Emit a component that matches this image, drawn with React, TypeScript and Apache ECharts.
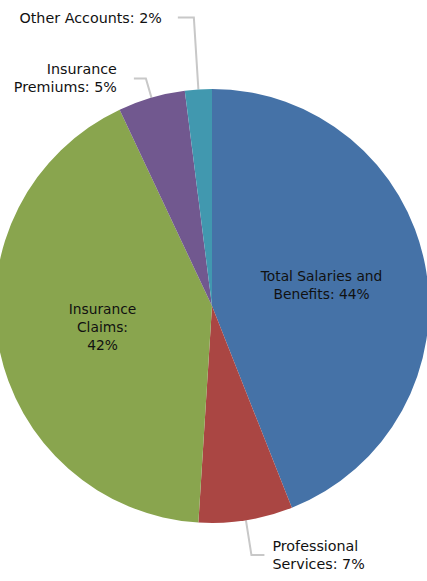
import React, { useEffect, useRef } from "react";
import * as echarts from "echarts";

const categories = [
  "Total Salaries and Benefits",
  "Professional Services",
  "Insurance Claims",
  "Insurance Premiums",
  "Other Accounts",
];
const labelTexts = [
  "Total Salaries and\nBenefits: 44%",
  "Professional\nServices: 7%",
  "Insurance\nClaims:\n42%",
  "Insurance\nPremiums: 5%",
  "Other Accounts: 2%",
];
const values = [44, 7, 42, 5, 2];
const colors = ["#4572A7", "#AA4643", "#89A54E", "#71588F", "#4198AF"];

// per-slice label placement (inside / outside with leader line)
const labelPlacement = [
  { position: "inside" },
  { position: "outside", length: 35, length2: 13, dist: 8 },
  { position: "inside" },
  { position: "outside", length: 20, length2: 12, dist: 17 },
  { position: "outside", length: 72, length2: 16, dist: 16 },
];

export default function App() {
  const ref = useRef<HTMLDivElement>(null);
  useEffect(() => {
    if (!ref.current) return;
    const chart = echarts.init(ref.current, null, { renderer: "svg" });
    const font = "DejaVu Sans";
    const data = values.map((v, i) => {
      const p: any = labelPlacement[i];
      const item: any = {
        name: categories[i],
        value: v,
        itemStyle: { color: colors[i] },
        label: {
          show: true,
          position: p.position,
          formatter: labelTexts[i],
          color: "#111111",
          fontFamily: font,
          fontSize: p.position === "inside" ? 13.8 : 14.3,
          lineHeight: 18,
        },
      };
      if (p.position === "outside") {
        item.label.distanceToLabelLine = p.dist;
        item.labelLine = {
          show: true,
          length: p.length,
          length2: p.length2,
          lineStyle: { color: "#c8c8c8", width: 2 },
        };
      } else {
        item.labelLine = { show: false };
      }
      return item;
    });
    chart.setOption({
      animation: false,
      backgroundColor: "#ffffff",
      series: [
        {
          type: "pie",
          center: [212, 306],
          radius: [0, 217],
          startAngle: 90,
          clockwise: true,
          avoidLabelOverlap: false,
          label: { alignTo: "none" },
          labelLine: { smooth: false },
          emphasis: { disabled: true },
          data,
        },
      ],
    });
    return () => chart.dispose();
  }, []);
  return (
    <div
      ref={ref}
      style={{ position: "fixed", left: 0, top: 0, width: 427, height: 581 }}
    />
  );
}
